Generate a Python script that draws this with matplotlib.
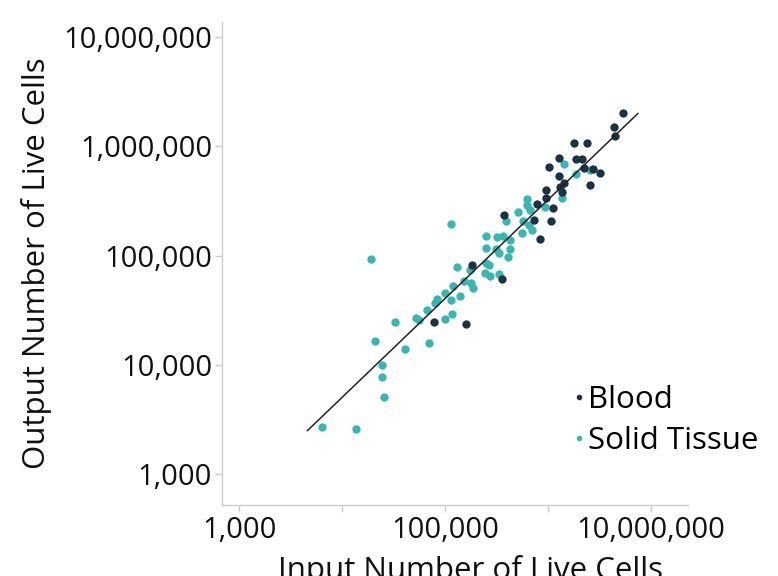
import numpy as np
import matplotlib
matplotlib.use("Agg")
import matplotlib.pyplot as plt
from matplotlib.lines import Line2D

# Blood samples: input vs output live cells
blood_in = [5.35e6, 4.40e6, 4.54e6, 1.78e6, 2.42e6, 1.29e6, 1.86e6, 2.17e6, 1.02e6, 2.24e6,
            2.74e6, 3.19e6, 1.29e6, 1.42e6, 1.30e6, 1.38e6, 2.58e6, 9.64e5, 9.50e5, 7.82e5,
            1.13e6, 3.73e5, 7.26e5, 1.08e6, 8.45e5, 1.85e5, 3.61e5, 7.82e4, 1.61e5]
blood_out = [2.01e6, 1.49e6, 1.24e6, 1.08e6, 1.07e6, 7.76e5, 7.60e5, 7.73e5, 6.49e5, 6.41e5,
             6.24e5, 5.71e5, 5.35e5, 4.65e5, 4.27e5, 3.81e5, 4.46e5, 3.96e5, 3.37e5, 2.94e5,
             2.75e5, 2.36e5, 2.13e5, 2.07e5, 1.41e5, 8.26e4, 6.07e4, 2.47e4, 2.37e4]

# Solid tissue samples
tissue_in = [1.44e6, 1.87e6, 2.56e6, 1.36e6, 9.46e5, 6.21e5, 6.32e5, 6.75e5, 5.12e5, 5.68e5,
             6.56e5, 7.03e5, 5.64e5, 3.88e5, 1.15e5, 2.48e5, 3.23e5, 3.69e5, 4.25e5, 2.48e5,
             3.16e5, 3.36e5, 4.25e5, 4.06e5, 1.30e5, 2.48e5, 2.69e5, 1.74e5, 2.43e5, 2.74e5,
             3.37e5, 1.54e5, 1.78e5, 1.89e5, 1.92e4, 1.20e5, 9.97e4, 1.40e5, 1.14e5, 8.30e4,
             7.94e4, 6.75e4, 9.97e4, 1.17e5, 5.25e4, 5.62e4, 3.30e4, 2.10e4, 4.13e4, 6.95e4,
             2.47e4, 2.47e4, 2.56e4, 6.43e3, 1.38e4]
tissue_out = [6.84e5, 5.54e5, 6.05e5, 3.36e5, 2.79e5, 3.32e5, 2.88e5, 2.64e5, 2.49e5, 2.07e5,
              1.91e5, 1.71e5, 1.60e5, 2.07e5, 1.95e5, 1.52e5, 1.49e5, 1.50e5, 1.40e5, 1.18e5,
              1.14e5, 1.05e5, 1.15e5, 9.80e4, 7.93e4, 8.57e4, 8.24e4, 7.45e4, 6.89e4, 6.52e4,
              6.73e4, 5.81e4, 5.65e4, 5.08e4, 9.33e4, 5.22e4, 4.55e4, 4.30e4, 3.93e4, 3.97e4,
              3.68e4, 3.20e4, 2.62e4, 2.94e4, 2.66e4, 2.59e4, 2.48e4, 1.65e4, 1.40e4, 1.60e4,
              1.00e4, 7.71e3, 5.08e3, 2.70e3, 2.61e3]

# fitted line end points
fit_x = [4.6e3, 7.5e6]
fit_y = [2.5e3, 2.0e6]

tick_vals = [1e3, 1e4, 1e5, 1e6, 1e7]
x_tick_labels = ["1,000", "", "100,000", "", "10,000,000"]
y_tick_labels = ["1,000", "10,000", "100,000", "1,000,000", "10,000,000"]

blood_color = "#1c3344"
tissue_color = "#3bb5b0"

plt.rcParams['font.family'] = ['Open Sans', 'DejaVu Sans']

fig = plt.figure(figsize=(7.78, 5.76), dpi=100)
ax = fig.add_axes([0.285, 0.123, 0.599, 0.839])

ax.scatter(tissue_in, tissue_out, s=36, color=tissue_color, linewidths=0, zorder=2)
ax.scatter(blood_in, blood_out, s=36, color=blood_color, linewidths=0, zorder=3)
ax.plot(fit_x, fit_y, color="#222222", lw=1.1, zorder=4)

ax.set_xscale("log")
ax.set_yscale("log")
ax.set_xlim(10 ** 2.83, 10 ** 7.36)
ax.set_ylim(10 ** 2.716, 10 ** 7.14)

ax.set_xticks(tick_vals)
ax.set_xticklabels(x_tick_labels)
ax.set_yticks(tick_vals)
ax.set_yticklabels(y_tick_labels)
ax.minorticks_off()

for side in ["top", "right"]:
    ax.spines[side].set_visible(False)
for side in ["left", "bottom"]:
    ax.spines[side].set_color("#cccccc")
    ax.spines[side].set_linewidth(1.0)

ax.tick_params(axis="both", colors="#cccccc", labelcolor="#111111",
               labelsize=21, length=5, width=1.0)
ax.tick_params(axis="y", pad=2)
ax.tick_params(axis="x", pad=3)

ax.set_ylabel("Output Number of Live Cells", fontsize=22.5, color="#111111", labelpad=8)
ax.set_xlabel("Input Number of Live Cells", fontsize=22.5, color="#111111", labelpad=7)
ax.xaxis.label.set_x(0.534)

handles = [
    Line2D([], [], marker="o", ls="", color=blood_color, markersize=3),
    Line2D([], [], marker="o", ls="", color=tissue_color, markersize=3),
]
ax.legend(handles, ["Blood", "Solid Tissue"], loc="upper left",
          bbox_to_anchor=(0.755, 0.248), frameon=False, fontsize=22.5,
          handlelength=0.35, handletextpad=0.12, labelspacing=0.35,
          borderpad=0, borderaxespad=0)

fig.savefig("out.png", dpi=100)
